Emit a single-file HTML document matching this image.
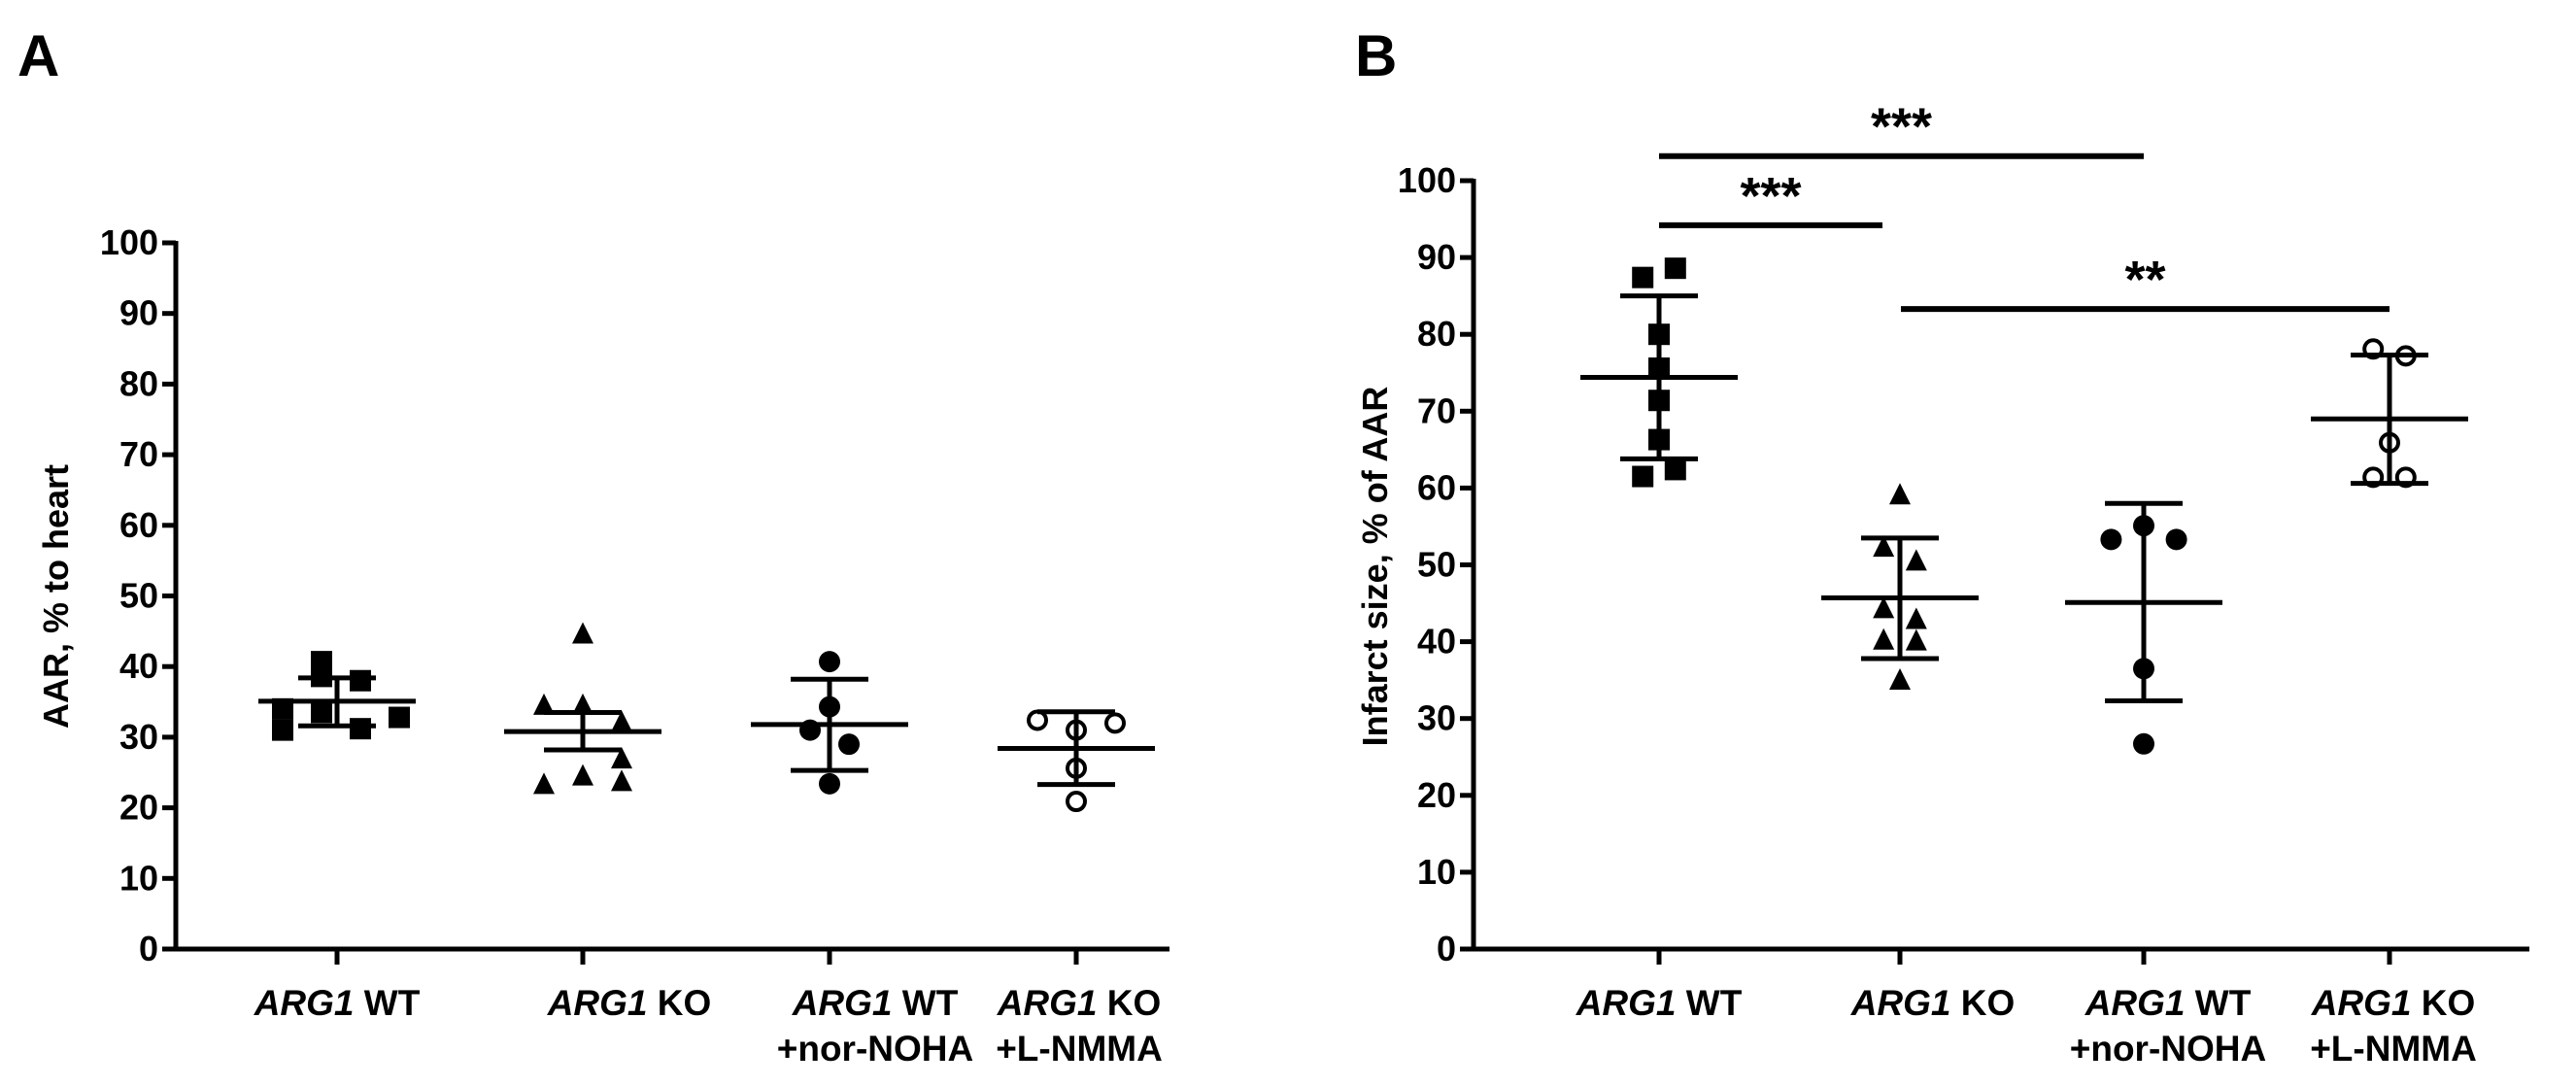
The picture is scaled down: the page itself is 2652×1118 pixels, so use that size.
<!DOCTYPE html>
<html><head><meta charset="utf-8"><style>
html,body{margin:0;padding:0;background:#fff;}
svg{display:block;}
text{font-family:"Liberation Sans Narrow","Liberation Sans",sans-serif;font-weight:bold;fill:#000;}
.t{font-family:"Liberation Sans",sans-serif;}
</style></head><body>
<svg id="fig" width="2652" height="1118" viewBox="0 0 2652 1118"></svg>
<script>
const groups = ["ARG1 WT","ARG1 KO","ARG1 WT +nor-NOHA","ARG1 KO +L-NMMA"];
const yTicks = [0,10,20,30,40,50,60,70,80,90,100];
const aWT = [34,31,40.7,38.6,33.5,38,31.2,32.8];
const aWTOff = [-1.4,-1.4,-0.4,-0.4,-0.4,0.6,0.6,1.6];
const aKO = [44.5,34.4,34.4,32,26.8,23.2,24.4,23.6];
const aKOOff = [0,-1,0,1,1,-1,0,1];
const aNOHA = [40.7,34.3,31,29,23.4];
const aNOHAOff = [0,0,-0.5,0.5,0];
const aNMMA = [32.4,32,31,25.6,20.9];
const aNMMAOff = [-1,1,0,0,0];
const aMean = [35.1,30.8,31.8,28.4];
const aUpper = [38.4,33.5,38.2,33.6];
const aLower = [31.6,28.2,25.3,23.3];
const bWT = [87.4,88.6,80,75.6,71.4,66.3,61.5,62.4];
const bWTOff = [-0.5,0.5,0,0,0,0,-0.5,0.5];
const bKO = [59,52.2,50.4,44.2,42.8,40.1,40,34.9];
const bKOOff = [0,-0.5,0.5,-0.5,0.5,-0.5,0.5,0];
const bNOHA = [53.3,55.1,53.3,36.5,26.7];
const bNOHAOff = [-1,0,1,0,0];
const bNMMA = [78.1,77.2,65.9,61.4,61.4];
const bNMMAOff = [-0.5,0.5,0,-0.5,0.5];
const bMean = [74.4,45.7,45.1,69];
const bUpper = [85,53.5,58,77.3];
const bLower = [63.8,37.8,32.3,60.6];
const sigFrom = [0,0,1];
const sigTo = [2,1,3];
const sigLevel = [103.2,94.2,83.3];
const sigLabel = ["***","***","**"];

const NS="http://www.w3.org/2000/svg";
const svg=document.getElementById('fig');
function mk(tag,attrs,parent){const e=document.createElementNS(NS,tag);for(const k in attrs)e.setAttribute(k,attrs[k]);(parent||svg).appendChild(e);return e;}

function panel(cfg){
  const g=mk('g',{});
  
  
  const y=v=>cfg.y0-(v/100)*(cfg.y0-cfg.y100);
  const x=i=>cfg.gx[i];
  const step=40;
  const ax=mk('line',{x1:cfg.ax,y1:cfg.y100-2,x2:cfg.ax,y2:cfg.y0+2,stroke:'#000','stroke-width':5},g);
  
  
  const xa=mk('line',{x1:cfg.ax-2,y1:cfg.y0,x2:cfg.xend,y2:cfg.y0,stroke:'#000','stroke-width':5},g);
  
  
  yTicks.forEach(v=>{
    mk('line',{x1:cfg.ax-14,y1:y(v),x2:cfg.ax,y2:y(v),stroke:'#000','stroke-width':5},g);
    const t=mk('text',{x:cfg.ax-18,y:y(v)+12,'text-anchor':'end','font-size':36},g);
    t.textContent=v;
    
    
  });
  groups.forEach((n,i)=>{
    mk('line',{x1:x(i),y1:cfg.y0,x2:x(i),y2:cfg.y0+16,stroke:'#000','stroke-width':5},g);
    const parts=n.split(' ');
    const t=mk('text',{x:cfg.lx[i],y:1045,'text-anchor':'middle','font-size':37},g);
    
    
    const s1=mk('tspan',{'font-style':'italic'},t);s1.textContent='ARG1';
    const s2=mk('tspan',{},t);s2.textContent=' '+parts[1];
    if(parts[2]){const t2=mk('text',{x:cfg.lx[i],y:1092,'text-anchor':'middle','font-size':37},g);t2.textContent=parts[2];
      
      }
  });
  const sets=[[cfg.d[0],cfg.o[0],'sq'],[cfg.d[1],cfg.o[1],'tri'],[cfg.d[2],cfg.o[2],'dot'],[cfg.d[3],cfg.o[3],'ring']];
  sets.forEach((s,i)=>{
    s[0].forEach((v,j)=>{
      const cx=x(i)+s[1][j]*step*(cfg.name==='panel-b'?0.84:1), cy=y(v);
      let m;
      if(s[2]==='sq') m=mk('rect',{x:cx-11,y:cy-11,width:22,height:22,fill:'#000'},g);
      else if(s[2]==='tri') m=mk('polygon',{points:`${cx},${cy-13} ${cx-11},${cy+9} ${cx+11},${cy+9}`,fill:'#000'},g);
      else if(s[2]==='dot') m=mk('circle',{cx:cx,cy:cy,r:11,fill:'#000'},g);
      else m=mk('circle',{cx:cx,cy:cy,r:9,fill:'#fff',stroke:'#000','stroke-width':4},g);
      
      
    });
    const ml=mk('line',{x1:x(i)-81,y1:y(cfg.mean[i]),x2:x(i)+81,y2:y(cfg.mean[i]),stroke:'#000','stroke-width':5},g);
    
    
    mk('line',{x1:x(i),y1:y(cfg.up[i]),x2:x(i),y2:y(cfg.lo[i]),stroke:'#000','stroke-width':5},g);
    const eu=mk('line',{x1:x(i)-40,y1:y(cfg.up[i]),x2:x(i)+40,y2:y(cfg.up[i]),stroke:'#000','stroke-width':5},g);
    
    
    mk('line',{x1:x(i)-40,y1:y(cfg.lo[i]),x2:x(i)+40,y2:y(cfg.lo[i]),stroke:'#000','stroke-width':5},g);
  });
  const yt=mk('text',{x:0,y:0,'text-anchor':'middle','font-size':36,class:'t',transform:`translate(${cfg.ytx},${cfg.yty}) rotate(-90)`},g);
  yt.textContent=cfg.ytitle;
  
  
  const L=mk('text',{x:cfg.Lx,y:78,'font-size':60,class:'t'},g);
  L.textContent=cfg.letter;
  
  
  return {g,y,x};
}

panel({name:'panel-a',ax:181,y0:977,y100:250,xend:1204,gx:[347,600,854,1108],lx:[347,648,901,1111],
  d:[aWT,aKO,aNOHA,aNMMA],o:[aWTOff,aKOOff,aNOHAOff,aNMMAOff],mean:aMean,up:aUpper,lo:aLower,
  ytitle:'AAR, % to heart',ytx:70,yty:614,letter:'A',Lx:18});
const pb=panel({name:'panel-b',ax:1517,y0:977,y100:186,xend:2604,gx:[1708,1956,2207,2460],lx:[1708,1990,2232,2464],
  d:[bWT,bKO,bNOHA,bNMMA],o:[bWTOff,bKOOff,bNOHAOff,bNMMAOff],mean:bMean,up:bUpper,lo:bLower,
  ytitle:'Infarct size, % of AAR',ytx:1428,yty:583,letter:'B',Lx:1395});
sigLevel.forEach((v,i)=>{
  const x1=pb.x(sigFrom[i]), x2=sigTo[i]===1?1938:pb.x(sigTo[i]);
  const xs=sigFrom[i]===1?1957:x1;
  const l=mk('line',{x1:xs,y1:pb.y(v),x2:x2,y2:pb.y(v),stroke:'#000','stroke-width':6},pb.g);
  
  
  const t=mk('text',{x:(xs+x2)/2,y:pb.y(v)-12,'text-anchor':'middle','font-size':54,class:'t'},pb.g);
  t.textContent=sigLabel[i];
  
  
});
</script>
</body></html>
